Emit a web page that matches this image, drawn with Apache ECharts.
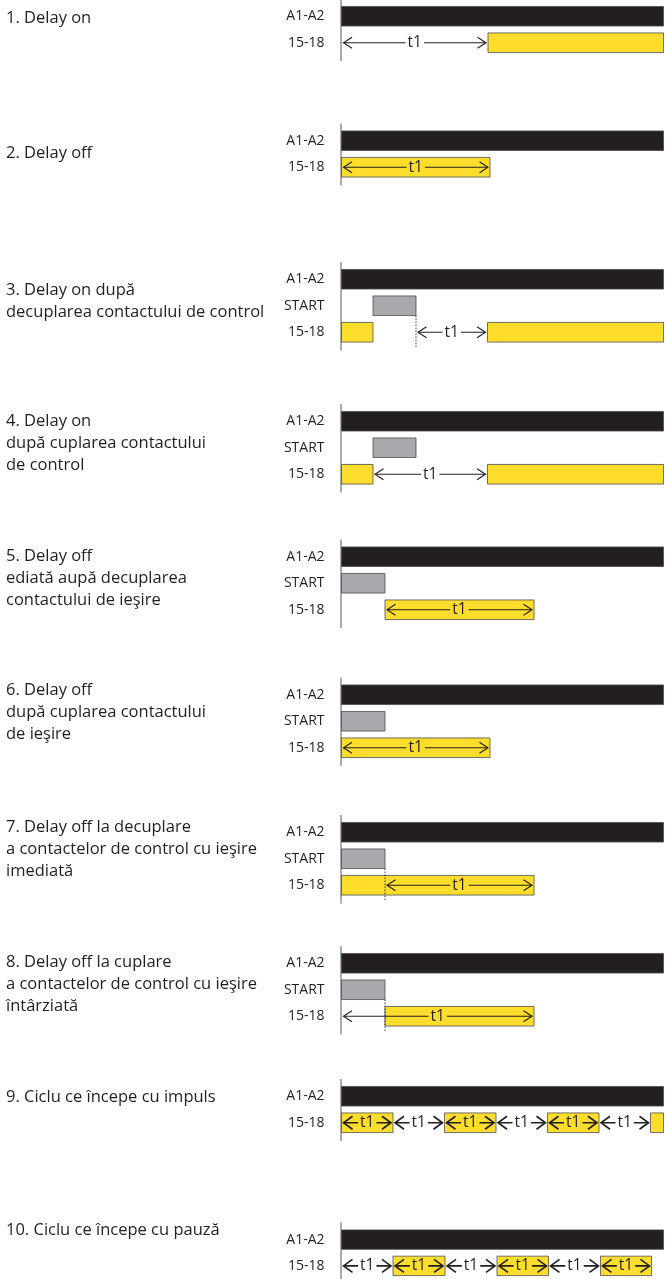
<!DOCTYPE html>
<html><head><meta charset="utf-8">
<script src="https://cdn.jsdelivr.net/npm/echarts@6/dist/echarts.min.js"></script>
<style>html,body{margin:0;padding:0;background:#fff}#c{width:666px;height:1279px}</style>
</head><body><div id="c"></div>
<script>
// ---------------- DATA ----------------
const titles = [
  ['1. Delay on'],
  ['2. Delay off'],
  ['3. Delay on după', 'decuplarea contactului de control'],
  ['4. Delay on', 'după cuplarea contactului', 'de control'],
  ['5. Delay off', 'ediată aupă decuplarea', 'contactului de ieşire'],
  ['6. Delay off', 'după cuplarea contactului', 'de ieşire'],
  ['7. Delay off la decuplare', 'a contactelor de control cu ieşire', 'imediată'],
  ['8. Delay off la cuplare', 'a contactelor de control cu ieşire', 'întârziată'],
  ['9. Ciclu ce începe cu impuls'],
  ['10. Ciclu ce începe cu pauză']
];
const rowLabels = [
  ['A1-A2', '15-18'],
  ['A1-A2', '15-18'],
  ['A1-A2', 'START', '15-18'],
  ['A1-A2', 'START', '15-18'],
  ['A1-A2', 'START', '15-18'],
  ['A1-A2', 'START', '15-18'],
  ['A1-A2', 'START', '15-18'],
  ['A1-A2', 'START', '15-18'],
  ['A1-A2', '15-18'],
  ['A1-A2', '15-18']
];
const timeEnd = 322; // time units (0 = power on)
// A1-A2 (supply) on-intervals
const supplyOn = [
  [[0, 322]], [[0, 322]], [[0, 322]], [[0, 322]], [[0, 322]],
  [[0, 322]], [[0, 322]], [[0, 322]], [[0, 322]], [[0, 322]]
];
// START control contact on-intervals
const startOn = [
  [], [], [[31.5, 74.5]], [[31.5, 74.5]], [[0, 43.5]],
  [[0, 43.5]], [[0, 43.5]], [[0, 43.5]], [], []
];
// 15-18 output on-intervals
const outputOn = [
  [[146.5, 322]],
  [[0, 148.5]],
  [[0, 31.5], [146, 322]],
  [[0, 31.5], [146, 322]],
  [[43.5, 192.5]],
  [[0, 148.5]],
  [[0, 192.5]],
  [[43.5, 192.5]],
  [[0, 51.5], [103, 154.5], [206, 257.5], [309, 322]],
  [[51.5, 103.5], [155.5, 207], [259, 310]]
];
// t1 timing spans
const timerSpans = [
  [[0, 146.5]],
  [[0, 148.5]],
  [[74.5, 146]],
  [[31.5, 146]],
  [[43.5, 192.5]],
  [[0, 148.5]],
  [[43.5, 192.5]],
  [[0, 192.5]],
  [[0, 51.5], [51.5, 103], [103, 154.5], [154.5, 206], [206, 257.5], [257.5, 309]],
  [[0, 51.5], [51.5, 103.5], [103.5, 155.5], [155.5, 207], [207, 259], [259, 310]]
];
// dotted marker times (end of START pulse)
const markerTimes = [[], [], [74.5], [], [], [], [43.5], [43.5], [], []];

// ---------------- LAYOUT / STYLE ----------------
const FONT = '"Open Sans", "Noto Sans", sans-serif';
const INK = '#231f20';
const BAND = 26.5;
const gridTops = [3, 127.5, 266, 408, 543.5, 681.5, 819, 950, 1083, 1226.5];
const titleTops = [7, 142, 279, 410, 545, 679, 816, 951, 1086, 1219];
const COLORS = { supply: '#231f20', start: '#a7a9ac', output: '#ffdd2c' };

function barRender(params, api) {
  const x0 = api.value(0), row = api.value(1), x1 = api.value(2);
  const p0 = api.coord([x0, row]), p1 = api.coord([x1, row]);
  const h = api.size([0, 1])[1] * 0.74;
  return {
    type: 'rect',
    shape: { x: p0[0], y: p0[1] - h / 2, width: p1[0] - p0[0], height: h },
    style: { fill: api.visual('color'), stroke: '#4d4d4f', lineWidth: 0.8 }
  };
}
function axisRender(n) {
  return function (params, api) {
    const top = api.coord([0, 0])[1] - BAND / 2 - 4;
    const bot = api.coord([0, n - 1])[1] + BAND / 2 + 5;
    const x = api.coord([0, 0])[0] - 0.5;
    return { type: 'line', shape: { x1: x, y1: top, x2: x, y2: bot }, style: { stroke: '#58595b', lineWidth: 1 } };
  };
}
function markerRender(n) {
  return function (params, api) {
    const t = api.value(0), row = api.value(1);
    const p = api.coord([t, row]);
    const h = api.size([0, 1])[1] * 0.74;
    const bot = api.coord([0, n - 1])[1] + BAND / 2 + 3;
    return { type: 'line', shape: { x1: p[0], y1: p[1] + h / 2, x2: p[0], y2: bot },
      style: { stroke: INK, lineWidth: 0.9, lineDash: [1.5, 1.5] } };
  };
}
function arrowRender(bold) {
  const L = bold ? 9 : 8.5, H = bold ? 6.5 : 5.5, lw = bold ? 1.6 : 1.1;
  return function (params, api) {
    const x0 = api.value(0), row = api.value(1), x1 = api.value(2), onYellow = api.value(3);
    const p0 = api.coord([x0, row]), p1 = api.coord([x1, row]);
    const a = p0[0] + 2, b = p1[0] - 2, y = p0[1], m = (a + b) / 2;
    const st = { stroke: INK, lineWidth: lw, fill: null };
    return {
      type: 'group',
      children: [
        { type: 'line', shape: { x1: a, y1: y, x2: b, y2: y }, style: st },
        { type: 'polyline', shape: { points: [[a + L, y - H], [a, y], [a + L, y + H]] }, style: st },
        { type: 'polyline', shape: { points: [[b - L, y - H], [b, y], [b - L, y + H]] }, style: st },
        { type: 'text', x: m, y: y,
          style: { text: 't1', fill: INK, fontSize: 15.5, fontFamily: FONT, align: 'center', verticalAlign: 'middle',
            backgroundColor: onYellow ? COLORS.output : '#ffffff', padding: [0, 2] } }
      ]
    };
  };
}

const grids = [], xAxes = [], yAxes = [], series = [], titleOpts = [];
for (let i = 0; i < titles.length; i++) {
  const rows = rowLabels[i], n = rows.length;
  const sRow = rows.indexOf('START'), oRow = rows.indexOf('15-18');
  grids.push({ left: 341.5, width: 322, top: gridTops[i], height: n * BAND });
  xAxes.push({ type: 'value', gridIndex: i, min: 0, max: timeEnd, show: false });
  yAxes.push({ type: 'category', gridIndex: i, data: rows, inverse: true,
    axisLine: { show: false }, axisTick: { show: false }, splitLine: { show: false },
    axisLabel: { color: INK, fontSize: 14, margin: 17, fontFamily: FONT } });
  titleOpts.push({ text: titles[i].join('\n'), left: 6, top: titleTops[i], padding: 0,
    textStyle: { fontSize: 16.5, fontWeight: 'normal', color: INK, lineHeight: 22, fontFamily: FONT } });
  const base = { type: 'custom', xAxisIndex: i, yAxisIndex: i, silent: true, encode: { x: [0, 2], y: 1 } };
  series.push(Object.assign({}, base, { z: 1, data: [[0, 0, 0]], renderItem: axisRender(n) }));
  series.push(Object.assign({}, base, { z: 2, itemStyle: { color: COLORS.supply },
    data: supplyOn[i].map(s => [s[0], 0, s[1]]), renderItem: barRender }));
  if (sRow >= 0) series.push(Object.assign({}, base, { z: 2, itemStyle: { color: COLORS.start },
    data: startOn[i].map(s => [s[0], sRow, s[1]]), renderItem: barRender }));
  series.push(Object.assign({}, base, { z: 2, itemStyle: { color: COLORS.output },
    data: outputOn[i].map(s => [s[0], oRow, s[1]]), renderItem: barRender }));
  if (markerTimes[i].length) series.push(Object.assign({}, base, { z: 3,
    data: markerTimes[i].map(t => [t, sRow, t]), renderItem: markerRender(n) }));
  series.push(Object.assign({}, base, { z: 4,
    data: timerSpans[i].map(s => {
      const mid = (s[0] + s[1]) / 2;
      const inY = outputOn[i].some(o => mid > o[0] && mid < o[1]) ? 1 : 0;
      return [s[0], oRow, s[1], inY];
    }),
    renderItem: arrowRender(timerSpans[i].length > 2) }));
}

const chart = echarts.init(document.getElementById('c'));
chart.setOption({
  animation: false,
  backgroundColor: '#ffffff',
  title: titleOpts,
  grid: grids,
  xAxis: xAxes,
  yAxis: yAxes,
  series: series
});
</script>
</body></html>
